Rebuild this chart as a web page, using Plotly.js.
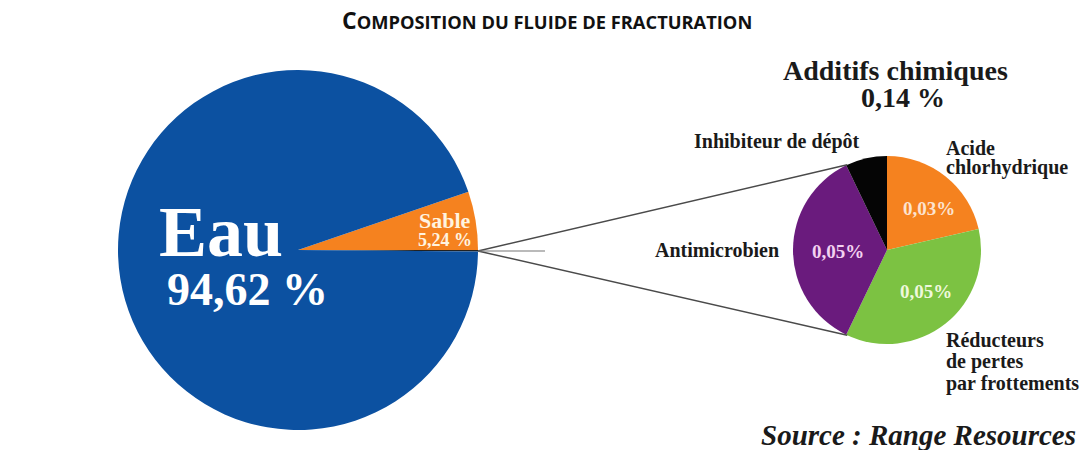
<!DOCTYPE html>
<html>
<head>
<meta charset="utf-8">
<script src="https://cdn.plot.ly/plotly-3.0.1.min.js"></script>
<style>html,body{margin:0;padding:0;background:#fff;}#chart{width:1086px;height:450px;}</style>
</head>
<body>
<div id="chart"></div>
<script>
// Main pie: composition of the fracturing fluid (%)
var mainLabels = ["Additifs chimiques", "Sable", "Eau"];
var mainValues = [0.14, 5.24, 94.62];
var mainText = ["0,14 %", "5,24 %", "94,62 %"];
var mainColors = ["#222222", "#F5821F", "#0C51A1"];

// Secondary pie: chemical additives (%)
var addLabels = ["Acide<br>chlorhydrique", "Réducteurs<br>de pertes<br>par frottements", "Antimicrobien", "Inhibiteur de dépôt"];
var addValues = [0.03, 0.05, 0.05, 0.01];
var addText = ["0,03%", "0,05%", "0,05%", ""];
var addColors = ["#F5821F", "#7CC242", "#6A1B7D", "#050505"];

var chartTitle = "Composition du fluide de fracturation";
var sourceText = "Source : Range Resources";

var W = 1086, H = 450;
function px(x){ return x / W; }
function py(y){ return 1 - y / H; }

// geometry (pixels)
var big = {cx: 298, cy: 250, r: 180};
var small = {cx: 887, cy: 250, r: 94};

var traces = [
  {
    type: "pie", labels: mainLabels, values: mainValues, sort: false,
    direction: "counterclockwise", rotation: 90,
    marker: {colors: mainColors, line: {width: 0}},
    textinfo: "none", hoverinfo: "label+text", text: mainText,
    domain: {x: [px(big.cx - big.r), px(big.cx + big.r)], y: [py(big.cy + big.r), py(big.cy - big.r)]},
    showlegend: false
  },
  {
    type: "pie", labels: addLabels, values: addValues, sort: false,
    direction: "clockwise", rotation: 0,
    marker: {colors: addColors, line: {width: 0}},
    textinfo: "none", hoverinfo: "label",
    domain: {x: [px(small.cx - small.r), px(small.cx + small.r)], y: [py(small.cy + small.r), py(small.cy - small.r)]},
    showlegend: false
  }
];

var serif = "Liberation Serif, Times New Roman, serif";
var lab = {family: serif, size: 20, color: "#1a1a1a", weight: 700};

// connector endpoints from pie geometry
function onSmall(deg){ var a = deg*Math.PI/180; return [small.cx + small.r*Math.cos(a), small.cy - small.r*Math.sin(a)]; }
var tip = [big.cx + big.r, big.cy + 1];
var up = onSmall(115), dn = onSmall(-115);
var lineStyle = {color: "#4a4a4a", width: 1.5};
var shapes = [
  {type: "line", xref: "paper", yref: "paper", x0: px(tip[0]), y0: py(tip[1]), x1: px(up[0]), y1: py(up[1]), line: lineStyle},
  {type: "line", xref: "paper", yref: "paper", x0: px(tip[0]), y0: py(tip[1]), x1: px(dn[0]), y1: py(dn[1]), line: lineStyle},
  {type: "line", xref: "paper", yref: "paper", x0: px(tip[0]), y0: py(tip[1]), x1: px(545), y1: py(tip[1]), line: {color: "#777", width: 1.2}}
];

function ann(text, x, y, font, xanchor){
  return {text: text, x: px(x), y: py(y), xref: "paper", yref: "paper", showarrow: false,
          font: font, xanchor: xanchor || "center", yanchor: "middle", align: xanchor || "center"};
}
// multi-line label placed line by line (tight line spacing)
function multi(text, x, y0, step, font, xanchor){
  return text.split("<br>").map(function(t, i){ return ann(t, x, y0 + i*step, font, xanchor); });
}

// sentence-case small caps: first letter full size, the rest reduced capitals
function smallCaps(s, smallSize){
  return s.charAt(0).toUpperCase() + "<span style='font-size:" + smallSize + "px'>" + s.slice(1).toUpperCase() + "</span>";
}

var annotations = [
  ann("<b>" + smallCaps(chartTitle, 18.3) + "</b>", 547, 20,
      {family: "Open Sans, sans-serif", size: 23, color: "#111", weight: 700}),
  ann(mainLabels[2], 221, 232, {family: serif, size: 72, color: "#ffffff", weight: 700}),
  ann(mainText[2], 247, 289, {family: serif, size: 46, color: "#ffffff", weight: 700}),
  ann(mainLabels[1], 445, 221, {family: serif, size: 22, color: "#FFF4E0", weight: 700}),
  ann(mainText[1], 445, 240, {family: serif, size: 18, color: "#FFF4E0", weight: 700}),
  ann(mainLabels[0], 895, 70, {family: serif, size: 28, color: "#1a1a1a", weight: 700}),
  ann(mainText[0], 903, 98, {family: serif, size: 28, color: "#1a1a1a", weight: 700}),
  ann(addLabels[3], 777, 141, lab),
  ann(addLabels[2], 781, 250, lab, "right"),
  ann(addText[0], 929, 208, {family: serif, size: 19, color: "#FCE3CF", weight: 700}),
  ann(addText[2], 838, 251, {family: serif, size: 19, color: "#F3D2F0", weight: 700}),
  ann(addText[1], 926, 291, {family: serif, size: 19, color: "#EEF8DC", weight: 700}),
  ann(sourceText, 1078, 435, {family: serif, size: 29, color: "#1a1a1a", weight: 700, style: "italic"}, "right")
].concat(multi(addLabels[0], 944, 148, 19, lab, "left"))
 .concat(multi(addLabels[1], 944, 340, 21.5, lab, "left"));

var layout = {
  width: W, height: H,
  margin: {l: 0, r: 0, t: 0, b: 0},
  paper_bgcolor: "#ffffff",
  plot_bgcolor: "#ffffff",
  shapes: shapes,
  annotations: annotations,
  showlegend: false
};

Plotly.newPlot("chart", traces, layout, {displayModeBar: false, staticPlot: true});
</script>
</body>
</html>
